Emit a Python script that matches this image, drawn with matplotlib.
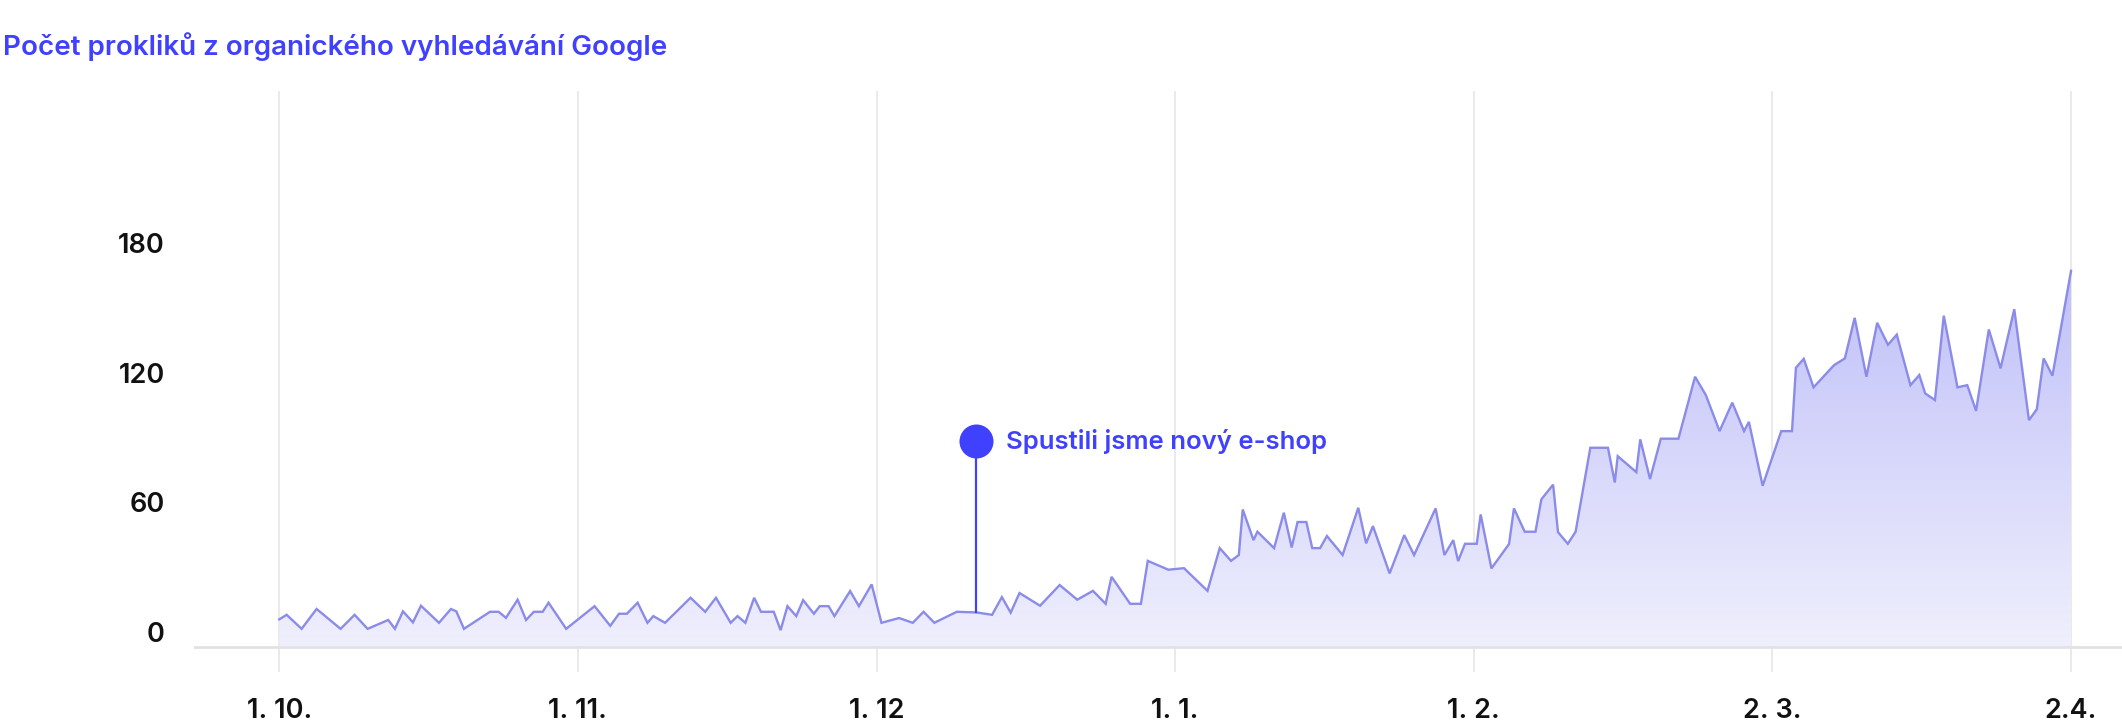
import numpy as np
import matplotlib
matplotlib.use("Agg")
import matplotlib.pyplot as plt
from matplotlib.colors import to_rgb
from matplotlib.transforms import blended_transform_factory, offset_copy

plt.rcParams['font.family'] = ['Inter', 'DejaVu Sans']

# days since 1. 10.
days = [0, 0.75, 2.28, 3.81, 6.26, 7.69, 9.02, 11.13, 11.81, 12.63, 13.65, 14.47,
        16.31, 17.53, 18.08, 18.86, 21.52, 22.4, 23.15, 24.34, 25.2, 26.0, 26.9,
        27.5, 29.3, 32.2, 33.8, 34.7, 35.5, 36.6,
        37.6, 38.2, 39.4, 42.0, 43.5, 44.6, 46.1, 46.8, 47.6, 48.5, 49.2, 50.5,
        51.2, 51.9, 52.8, 53.5, 54.6, 55.2, 56.1, 56.7, 58.3, 59.2, 60.5, 61.5,
        63.3, 64.7, 65.8, 66.9, 69.2, 71.2, 72.8,
        73.8, 74.7, 75.6, 77.7, 79.7, 81.5, 83.1, 84.4, 85.0, 86.9, 88.0, 88.7,
        90.8, 92.4, 94.8, 96.05, 97.2, 98.0, 98.4, 99.5, 99.9, 101.6, 102.6,
        103.4, 104.0, 104.9, 105.5, 106.3, 107.0, 108.6,
        110.2, 111.0, 111.7, 113.4, 114.9, 115.9, 118.1, 119.0, 119.9, 120.4,
        121.1, 122.3, 122.7, 123.8, 125.6, 126.1, 127.2, 128.3, 128.9, 130.1,
        130.6, 131.6, 132.4, 133.9, 135.7, 136.4, 136.7, 138.6, 139.0, 140.0,
        141.1, 142.9, 144.6, 145.7,
        147.1, 148.4, 149.6, 150.1, 151.5, 153.4, 154.5, 154.9, 155.7, 156.7,
        158.8, 159.9, 160.9, 162.1, 163.2, 164.3, 165.2, 166.6, 167.5, 168.1,
        169.1, 170.0, 171.4, 172.4, 173.3, 174.6, 175.8, 177.2, 178.7, 179.5,
        180.2, 181.1, 183.0]

clicks = [12.7, 14.8, 8.3, 17.5, 8.3, 14.8, 8.3, 12.4, 8.3, 16.4, 11.3, 19.0,
          11.1, 17.5, 16.4, 8.3, 16.2, 16.2, 13.4, 21.8, 12.4, 16.2, 16.2,
          20.4, 8.3, 18.8, 9.7, 15.3, 15.3, 20.4,
          11.1, 14.2, 11.1, 22.7, 16.2, 22.7, 11.1, 14.2, 11.1, 22.7, 16.2, 16.2,
          7.7, 18.8, 14.2, 21.6, 15.3, 18.8, 18.8, 14.2, 25.8, 18.8, 28.9, 11.1,
          13.3, 11.1, 16.2, 11.1, 16.2, 15.9, 14.8,
          23.0, 15.8, 24.9, 19.0, 28.6, 21.8, 25.9, 19.9, 32.4, 19.9, 19.9, 39.8,
          35.7, 36.4, 25.9, 45.7, 39.8, 42.5, 63.6, 49.4, 53.3, 45.7, 62.1,
          46.0, 57.8, 57.8, 45.7, 45.7, 51.3, 42.5,
          64.4, 47.9, 55.9, 34.0, 51.7, 42.5, 64.1, 42.5, 49.4, 39.7,
          47.7, 47.7, 61.3, 36.3, 47.6, 64.1, 53.3, 53.3, 68.3, 75.1,
          53.1, 47.7, 53.3, 92.2, 92.2, 76.1, 88.3, 80.9, 96.1, 77.7,
          96.4, 96.4, 125.1, 116.6,
          99.9, 113.1, 99.9, 104.2, 74.6, 99.9, 99.9, 129.3, 133.4, 120.2,
          130.5, 133.6, 152.4, 125.1, 150.1, 139.9, 144.6, 121.2, 125.9, 117.4,
          114.3, 153.4, 120.2, 121.2, 109.3, 147.0, 129.0, 156.4, 105.0, 110.0,
          133.6, 125.6, 174.2]

tick_days = [0, 30.5, 61, 91.5, 122, 152.5, 183]
tick_labels = ['1. 10.', '1. 11.', '1. 12', '1. 1.', '1. 2.', '2. 3.', '2.4.']
y_ticks = [0, 60, 120, 180]

event_day = 71.2
event_value = 15.9
event_marker = 95.3
event_text = 'Spustili jsme nový e-shop'
title = 'Počet prokliků z organického vyhledávání Google'

blue = '#4040ff'
line_col = '#8b8bea'
grid_col = '#e6e6e6'

W, H = 2122, 722
fig = plt.figure(figsize=(W / 100, H / 100), dpi=100)
ax = fig.add_axes([194 / W, 1 - 672 / H, 1 - 194 / W, (672 - 91) / H])

# gradient fill under the line
poly = ax.fill_between(days, clicks, 0, facecolor='none', edgecolor='none')
c_bot = np.array(to_rgb('#efeffd'))
c_top = np.array(to_rgb('#c0c0f9'))
t = np.linspace(0, 1, 256)[:, None]
grad = (c_bot * (1 - t) + c_top * t)[:, None, :]
img = ax.imshow(grad, extent=[days[0], days[-1], 0, max(clicks)], origin='lower',
                aspect='auto', zorder=1, interpolation='bilinear')
img.set_clip_path(poly.get_paths()[0], transform=ax.transData)

ax.plot(days, clicks, color=line_col, lw=1.7, zorder=3, solid_joinstyle='miter')

for d in tick_days:
    ax.axvline(d, color=grid_col, lw=1.2, zorder=0)
ax.axhline(0, color='#e2e2e6', lw=2, zorder=2)

# event marker
ax.plot([event_day, event_day], [event_value, event_marker], color=blue, lw=1.6, zorder=4)
ax.scatter([event_day], [event_marker], s=600, color=blue, zorder=5, linewidths=0)
ax.annotate(event_text, (event_day, event_marker), xytext=(30, 0),
            textcoords='offset pixels', ha='left', va='center',
            fontsize=18.5, fontweight='semibold', color=blue)

ax.set_xlim((194 - 279.3) / 9.791, (2122 - 279.3) / 9.791)
ax.set_ylim(-11.7, 257.5)

ax.set_xticks(tick_days)
ax.set_xticklabels(tick_labels, fontsize=19.5, fontweight='semibold', color='#111111')
ax.tick_params(axis='x', length=0, pad=19)
ax.set_yticks([])
for s in ax.spines.values():
    s.set_visible(False)

trans = offset_copy(blended_transform_factory(ax.transAxes, ax.transData),
                    fig=fig, x=-0.29, y=0.12, units='inches')
for v in y_ticks:
    ax.text(0, v, str(v), transform=trans, ha='right', va='center',
            fontsize=19.5, fontweight='semibold', color='#111111')

fig.text(3 / W, 1 - 47 / H, title, ha='left', va='center',
         fontsize=20, fontweight='semibold', color=blue)

fig.savefig('out.png', dpi=100)
